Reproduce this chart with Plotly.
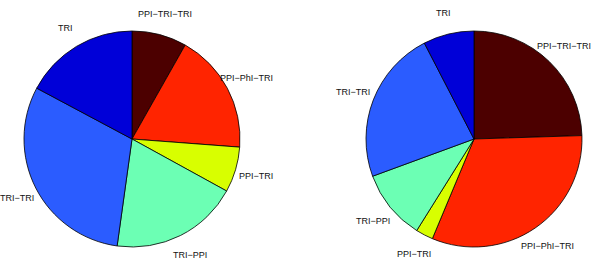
import math
import plotly.graph_objects as go

labels = ["PPI−TRI−TRI", "PPI−PhI−TRI", "PPI−TRI", "TRI−PPI", "TRI−TRI", "TRI"]
left_values = [8.2, 18.0, 6.8, 19.2, 30.6, 17.2]
right_values = [24.5, 31.8, 2.6, 10.5, 23.0, 7.6]
colors = ["#4c0000", "#ff2400", "#d8ff00", "#6cffb4", "#2b5cff", "#0000d8"]

W, H = 600, 261
R = 108
centers = [(132, 139), (474, 139)]

fig = go.Figure()
annotations = []
for (cx, cy), vals in zip(centers, [left_values, right_values]):
    dom_x = [(cx - R) / W, (cx + R) / W]
    dom_y = [1 - (cy + R) / H, 1 - (cy - R) / H]
    fig.add_trace(go.Pie(
        labels=labels, values=vals, sort=False, direction="clockwise",
        rotation=0, textinfo="none", hoverinfo="label+percent",
        marker=dict(colors=colors, line=dict(color="black", width=0.8)),
        domain=dict(x=dom_x, y=dom_y), showlegend=False,
    ))
    total = sum(vals)
    cum = 0.0
    for lab, v in zip(labels, vals):
        mid = (cum + v / 2) / total * 2 * math.pi
        cum += v
        px = cx + 1.2 * R * math.sin(mid)
        py = cy - 1.2 * R * math.cos(mid)
        annotations.append(dict(
            x=px / W, y=1 - py / H, xref="paper", yref="paper",
            text=lab, showarrow=False, xanchor="center", yanchor="middle",
            font=dict(family="Liberation Sans, Arial, sans-serif", size=9, color="#111111"),
        ))

fig.update_layout(
    width=W, height=H, margin=dict(l=0, r=0, t=0, b=0),
    paper_bgcolor="white", plot_bgcolor="white",
    annotations=annotations,
)
fig.write_html(
    "out.html",
    config={"displayModeBar": False},
    post_script="document.body.style.margin='0px';document.body.style.padding='0px';",
)
